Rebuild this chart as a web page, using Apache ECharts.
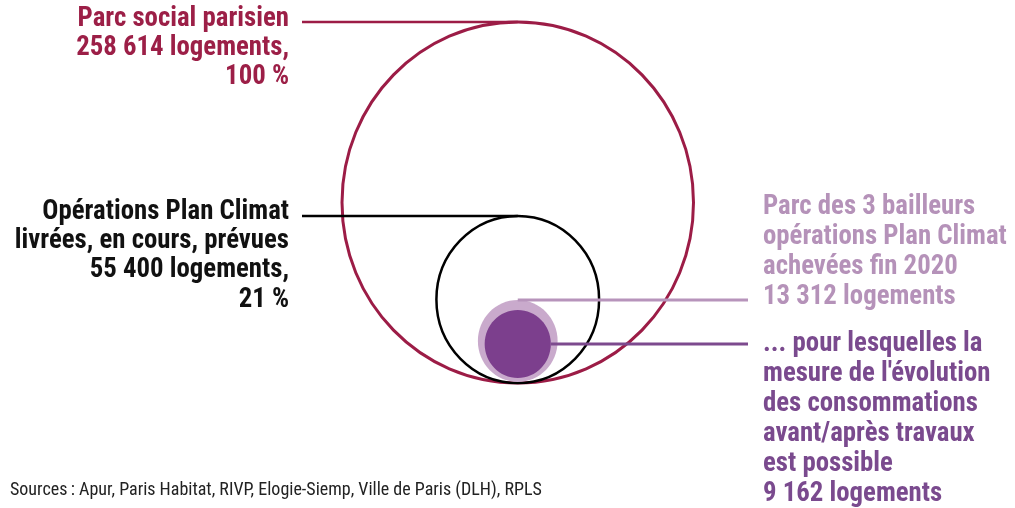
<!DOCTYPE html>
<html><head><meta charset="utf-8">
<script src="https://cdn.jsdelivr.net/npm/echarts@6/dist/echarts.min.js"></script>
<style>html,body{margin:0;padding:0;background:#fff}#c{width:1015px;height:508px}</style>
</head><body><div id="c"></div>
<script>
// ---- data ----
const categories = ['Parc social parisien', 'Opérations Plan Climat', 'Parc des 3 bailleurs', 'Mesure possible'];
const logements = [258614, 55400, 13312, 9162];
const labels = [
  ['Parc social parisien', '258 614 logements,', '100 %'],
  ['Opérations Plan Climat', 'livrées, en cours, prévues', '55 400 logements,', '21 %'],
  ['Parc des 3 bailleurs', 'opérations Plan Climat', 'achevées fin 2020', '13 312 logements'],
  ['... pour lesquelles la', "mesure de l'évolution", 'des consommations', 'avant/après travaux', 'est possible', '9 162 logements']
];
const sourceText = 'Sources\u2009: Apur, Paris Habitat, RIVP, Elogie-Siemp, Ville de Paris (DLH), RPLS';

// ---- styles ----
const FONT = '"Roboto Condensed", "Liberation Sans Narrow", Roboto, sans-serif';
const styles = [
  {fill: 'none', stroke: '#9c1c46', lw: 3, text: '#9c1f47', line: '#9c1c46', side: 'left', anchor: 'top', lift: 0, dy: -3},
  {fill: 'none', stroke: '#000000', lw: 2.5, text: '#111111', line: '#000000', side: 'left', anchor: 'top', lift: 0, dy: -4},
  {fill: '#c9aacc', stroke: null, lw: 0, text: '#b592b9', line: '#b794bb', side: 'right', anchor: 'top', lift: 1, dy: -3},
  {fill: '#7c3f8d', stroke: null, lw: 0, text: '#7a4a8e', line: '#7d4a8e', side: 'right', anchor: 'center', lift: 5, dy: 0}
];
const LH_L = 29.3, LH_R = 30, FS = 26.8;
const maxR = Math.sqrt(Math.max(...logements));

function renderItem(params, api) {
  const i = params.dataIndex;
  const r = Math.sqrt(api.value(1));
  const base = api.coord([0, 0]);
  const sz = api.size([r, r]);
  const st = styles[i];
  const rx = sz[0], ry = sz[1];
  const cx = base[0], cy = base[1] - ry - st.lift;
  const children = [{
    type: 'ellipse',
    shape: {cx: cx, cy: cy, rx: rx, ry: ry},
    style: {fill: st.fill, stroke: st.stroke, lineWidth: st.lw}
  }];
  const ly = st.anchor === 'top' ? cy - ry : cy;
  const lines = labels[i];
  if (st.side === 'left') {
    children.push({type: 'line', shape: {x1: 302, y1: ly, x2: cx, y2: ly}, style: {stroke: st.line, lineWidth: 2.5}});
    children.push({type: 'text', style: {
      text: lines.join('\n'), x: 289, y: ly + st.dy - LH_L / 2, align: 'right', verticalAlign: 'top',
      lineHeight: LH_L, fontSize: FS, fontWeight: 'bold', fontFamily: FONT, fill: st.text}});
  } else {
    const x1 = st.anchor === 'top' ? cx : cx + rx;
    children.push({type: 'line', shape: {x1: x1, y1: ly, x2: 748, y2: ly}, style: {stroke: st.line, lineWidth: 3}});
    const top = st.anchor === 'top' ? ly + st.dy - (lines.length - 0.5) * LH_R : ly + st.dy - LH_R / 2;
    children.push({type: 'text', style: {
      text: lines.join('\n'), x: 763, y: top, align: 'left', verticalAlign: 'top',
      lineHeight: LH_R, fontSize: FS, fontWeight: 'bold', fontFamily: FONT, fill: st.text}});
  }
  return {type: 'group', children: children};
}

const chart = echarts.init(document.getElementById('c'), null, {renderer: 'canvas'});
chart.setOption({
  animation: false,
  backgroundColor: '#ffffff',
  grid: {left: 342, right: 321.5, top: 22, bottom: 125},
  xAxis: {type: 'value', min: -maxR, max: maxR, show: false},
  yAxis: {type: 'value', min: 0, max: 2 * maxR, show: false},
  series: [{
    type: 'custom',
    name: 'logements',
    renderItem: renderItem,
    data: logements.map((v, k) => ({name: categories[k], value: [0, v]})),
    clip: false
  }],
  graphic: [{
    type: 'text', left: 10, top: 481,
    style: {text: sourceText, fontSize: 18, fontFamily: FONT, fill: '#222222'}
  }]
});
</script>
</body></html>
